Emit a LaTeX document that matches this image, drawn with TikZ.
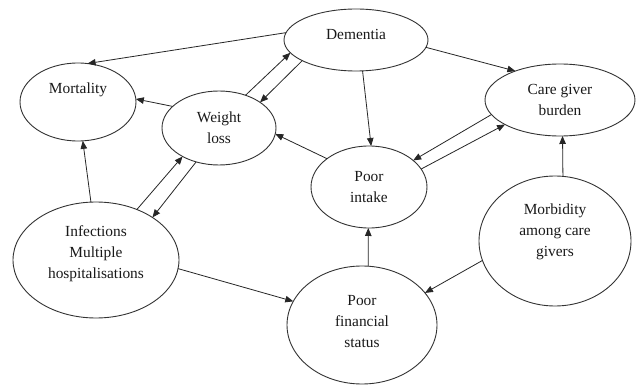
\documentclass[tikz,border=0pt]{standalone}
\usepackage{fontspec}
\setmainfont{Liberation Serif}
\usetikzlibrary{shapes.geometric,arrows.meta}
\tikzset{
  ell/.style={draw=black!80, ellipse, inner sep=0pt, outer sep=0pt, line width=0.9pt},
  txt/.style={align=center, font=\fontsize{15.4}{21}\selectfont, inner sep=0pt, text=black!90},
  arr/.style={-{Triangle[length=8pt,width=6.5pt]}, line width=0.8pt, draw=black!85},
}
\begin{document}
\begin{tikzpicture}[x=1pt,y=-1pt]
\useasboundingbox[fill=white] (0,0) rectangle (638,385);
% nodes
\node[ell, minimum width=144pt, minimum height=62pt,
  label={[txt, name=demt, yshift=6pt]center:Dementia}] (dem) at (356,40) {};
\node[ell, minimum width=116pt, minimum height=78pt,
  label={[txt, name=mortt, yshift=12pt]center:Mortality}] (mort) at (78,102) {};
\node[ell, minimum width=114pt, minimum height=74pt,
  label={[txt, name=wlt]center:Weight\\loss}] (wl) at (219,128) {};
\node[ell, minimum width=150pt, minimum height=72pt,
  label={[txt, name=cgbt]center:Care giver\\burden}] (cgb) at (560,100) {};
\node[ell, minimum width=116pt, minimum height=82pt,
  label={[txt, name=pit]center:Poor\\intake}] (pi) at (369,187) {};
\node[ell, minimum width=152pt, minimum height=130pt,
  label={[txt, name=morbt, yshift=9pt]center:Morbidity\\among care\\givers}] (morb) at (555,241) {};
\node[ell, minimum width=166pt, minimum height=116pt,
  label={[txt, name=inft, yshift=6pt]center:Infections\\Multiple\\hospitalisations}] (inf) at (96,260) {};
\node[ell, minimum width=150pt, minimum height=118pt,
  label={[txt, name=pfst, yshift=3pt]center:Poor\\financial\\status}] (pfs) at (362,325) {};
% connectors
\draw[arr] (dem.174.4) -- (mort.76);
\draw[arr] (wl.155.9) -- (mort.3.1);
\draw[arr] (wl.51.8) -- (dem.191.7);
\draw[arr] (dem.201.8) -- (wl.32.4);
\draw[arr] (dem.282) -- (pi.87.2);
\draw[arr] (dem.354.4) -- (cgb.147.2);
\draw[arr] (cgb.192.7) -- (pi.31.5);
\draw[arr] (pi.19.1) -- (cgb.204.9);
\draw[arr] (pi.146.3) -- (wl.-6.1);
\draw[arr] (morb.83.1) -- (cgb.274.8);
\draw[arr] (morb.195.3) -- (pfs.27.3);
\draw[arr] (pfs.84.2) -- (pi.269);
\draw[arr] (inf.95.9) -- (mort.277);
\draw[arr] (inf.51.2) -- (wl.218.3);
\draw[arr] (wl.236.7) -- (inf.37);
\draw[arr] (inf.354.4) -- (pfs.161.8);
\end{tikzpicture}
\end{document}
